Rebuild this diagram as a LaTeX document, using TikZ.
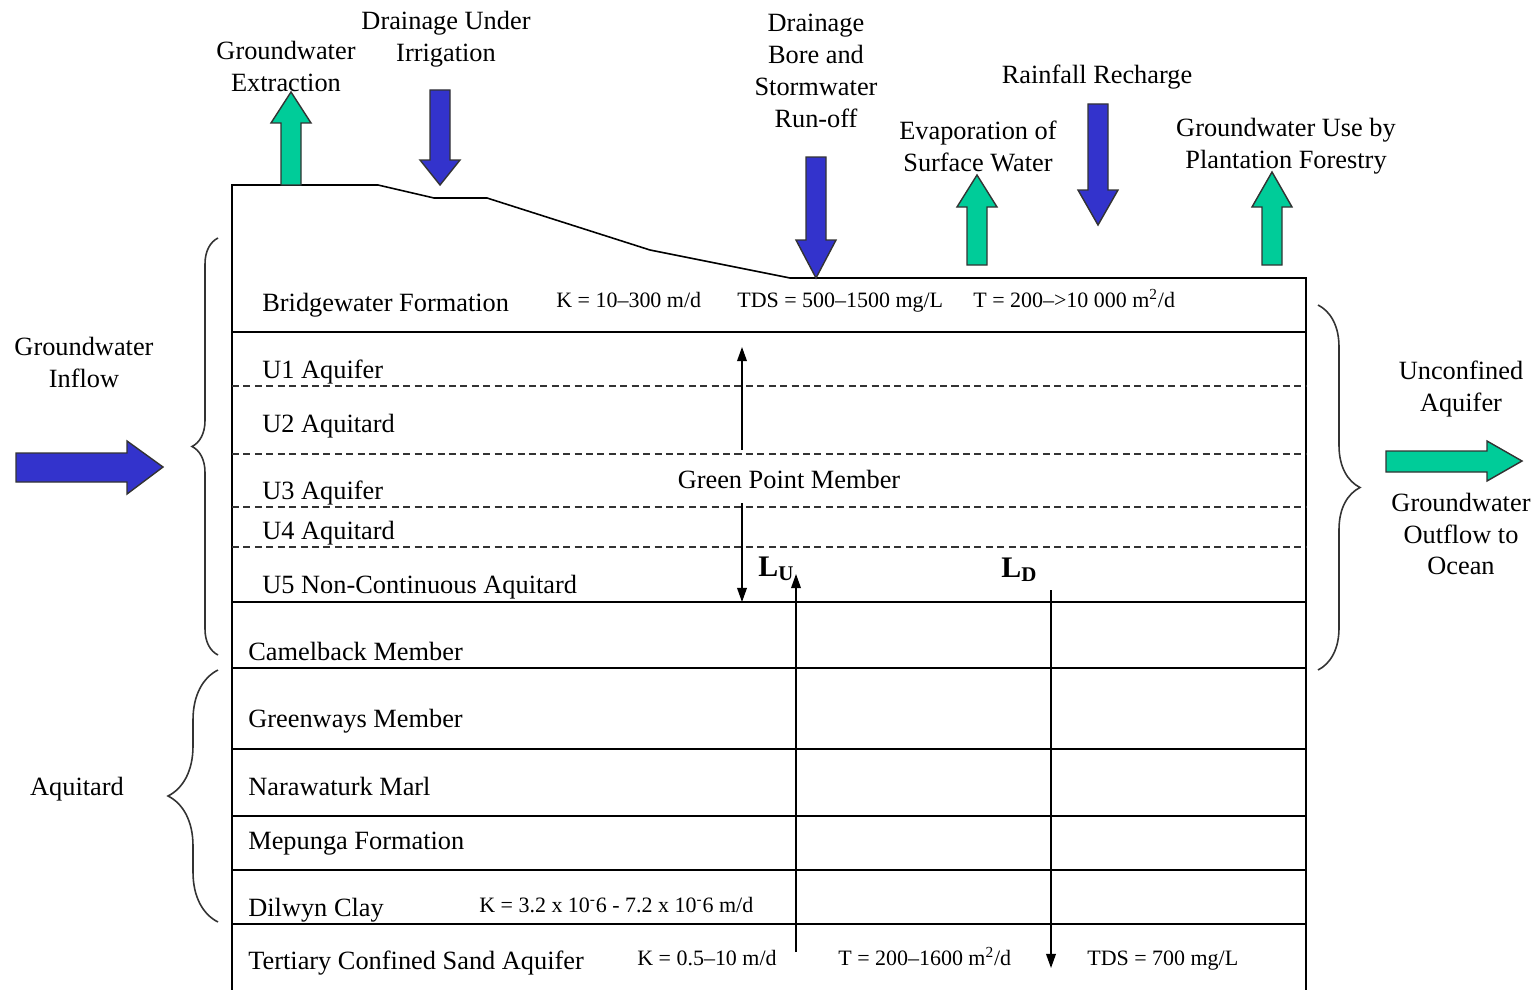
\documentclass[tikz,border=0pt]{standalone}
\usepackage{fontspec}
\setmainfont{Liberation Serif}
\usetikzlibrary{arrows.meta,decorations.pathreplacing}
\definecolor{fblue}{HTML}{3333CC}
\definecolor{fgreen}{HTML}{00CC99}
\definecolor{edgec}{HTML}{333333}
\newcommand{\vblockarrow}[5]{% style, x centre, y shaft end, y head base, y tip
  \draw[#1] ({#2-10},#3) -- ({#2-10},#4) -- ({#2-20},#4) -- (#2,#5) -- ({#2+20},#4) -- ({#2+10},#4) -- ({#2+10},#3) -- cycle;}
\begin{document}
\begin{tikzpicture}[x=0.02cm,y=-0.02cm,
  lbl/.style={font=\fontsize{15}{18.2}\selectfont, inner sep=0pt, align=center},
  lay/.style={font=\fontsize{15}{18.2}\selectfont, inner sep=0pt, anchor=base west},
  par/.style={font=\fontsize{12.5}{15}\selectfont, inner sep=0pt, anchor=base west},
  lfac/.style={font=\fontsize{17}{20}\bfseries\selectfont, inner sep=0pt, anchor=base west},
  bluearr/.style={draw=edgec, line width=0.8pt, fill=fblue, line join=miter},
  greenarr/.style={draw=edgec, line width=0.8pt, fill=fgreen, line join=miter},
  box/.style={draw=black, line width=0.9pt},
  dashline/.style={draw=edgec, line width=0.8pt, dash pattern=on 4pt off 2.5pt},
  thinarr/.style={draw=black, line width=0.8pt, -{Triangle[length=8pt,width=5.5pt]}},
  bracel/.style={draw=edgec, line width=0.9pt, decorate},
]
\useasboundingbox (0,0) rectangle (1535,990);

% ---- layered section ----
\draw[box] (232,990) -- (232,185) -- (378,185) -- (434,198) -- (487,198) -- (650,250) -- (790,278) -- (1306,278) -- (1306,990);
\foreach \yy in {332,602,668,749,816,870,924}
  \draw[box] (232,\yy) -- (1306,\yy);
\foreach \yy in {386,454,507,547}
  \draw[dashline] (232,\yy) -- (1306,\yy);

% ---- layer labels ----
\node[lay] (bw) at (262,311) {Bridgewater Formation};
\node[lay] (u1) at (262,378) {U1 Aquifer};
\node[lay] (u2) at (262,432) {U2 Aquitard};
\node[lay] (u3) at (262,499) {U3 Aquifer};
\node[lay] (u4) at (262,539) {U4 Aquitard};
\node[lay] (u5) at (262,593) {U5 Non-Continuous Aquitard};
\node[lay] (cb) at (248,660) {Camelback Member};
\node[lay] (gw) at (248,727) {Greenways Member};
\node[lay] (nm) at (248,795) {Narawaturk Marl};
\node[lay] (mf) at (248,849) {Mepunga Formation};
\node[lay] (dc) at (248,916) {Dilwyn Clay};
\node[lay] (tc) at (248,969) {Tertiary Confined Sand Aquifer};

% ---- parameters ----
\node[par] (k1) at (556,307) {K = 10–300 m/d};
\node[par] (tds1) at (737,307) {TDS = 500–1500 mg/L};
\node[par] (t1) at (973,307) {T = 200–>10~000 m\textsuperscript{2}/d};
\node[par] (k2) at (479,912) {K = 3.2 x 10\textsuperscript{-}6 - 7.2 x 10\textsuperscript{-}6 m/d};
\node[par] (k3) at (637,965) {K = 0.5–10 m/d};
\node[par] (t3) at (838,965) {T = 200–1600 m\textsuperscript{2}/d};
\node[par] (tds3) at (1087,965) {TDS = 700 mg/L};

% ---- Green Point Member and leakage ----
\node[lbl] (gp) at (789,479) {Green Point Member};
\coordinate (gpu0) at (742,450);
\coordinate (gpu1) at (742,347);
\coordinate (gpd0) at (742,503);
\coordinate (gpd1) at (742,602);
\draw[thinarr] (gpu0) -- (gpu1);
\draw[thinarr] (gpd0) -- (gpd1);
\node[lfac] (lu) at (758,576) {L\textsubscript{U}};
\node[lfac] (ld) at (1001,577) {L\textsubscript{D}};
\coordinate (lu0) at (796,952);
\coordinate (lu1) at (796,574);
\coordinate (ld0) at (1051,590);
\coordinate (ld1) at (1051,968);
\draw[thinarr] (lu0) -- (lu1);
\draw[thinarr] (ld0) -- (ld1);

% ---- vertical block arrows ----
\vblockarrow{greenarr}{291}{185}{123}{92}
\vblockarrow{bluearr}{440}{90}{160}{185}
\vblockarrow{bluearr}{816}{157}{240}{278}
\vblockarrow{greenarr}{977}{265}{207}{175}
\vblockarrow{bluearr}{1098}{104}{190}{225}
\vblockarrow{greenarr}{1272}{265}{207}{172}

% ---- horizontal block arrows ----
\draw[bluearr] (16,453) -- (127,453) -- (127,441) -- (163,467) -- (127,494) -- (127,482) -- (16,482) -- cycle;
\draw[greenarr] (1386,451) -- (1487,451) -- (1487,441) -- (1522,461) -- (1487,481) -- (1487,472) -- (1386,472) -- cycle;

% ---- flux labels ----
\node[lbl] (ext) at (286,66) {Groundwater\\Extraction};
\node[lbl] (irr) at (446,39) {Drainage Under\\Irrigation};
\node[lbl] (bore) at (816,71) {Drainage\\Bore and\\Stormwater\\Run-off};
\node[lbl] (rain) at (1097,77) {Rainfall Recharge};
\node[lbl] (evap) at (978,146) {Evaporation of\\Surface Water};
\node[lbl] (plant) at (1286,146) {Groundwater Use by\\Plantation Forestry};
\node[lbl] (inflow) at (84,362) {Groundwater\\Inflow};
\node[lbl] (unconf) at (1461,389) {Unconfined\\Aquifer};
\node[lbl] (outflow) at (1461,534) {Groundwater\\Outflow to\\Ocean};
\node[lbl] (aqt) at (77,789) {Aquitard};

% ---- braces ----
\draw[bracel, decoration={brace, amplitude=0.52cm}] (218,655) -- (218,238);
\draw[bracel, decoration={brace, amplitude=1.0cm}] (218,922) -- (218,670);
\draw[bracel, decoration={brace, amplitude=0.84cm}] (1318,305) -- (1318,670);
\end{tikzpicture}
\end{document}
